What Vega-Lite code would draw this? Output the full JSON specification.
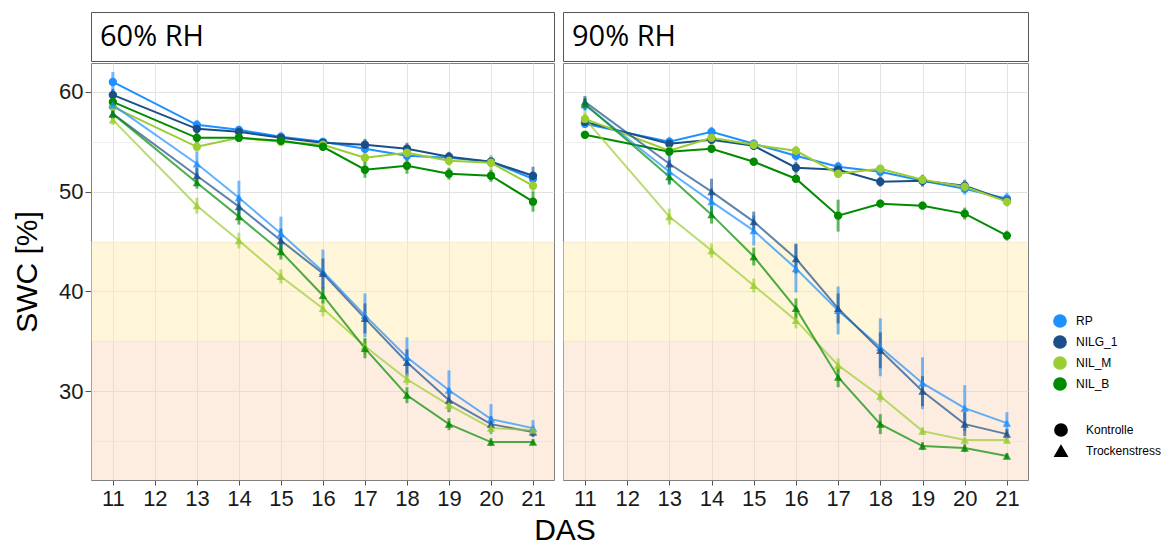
{
  "$schema": "https://vega.github.io/schema/vega-lite/v6.json",
  "background": "white",
  "padding": {"left": 12, "top": 11, "right": 0, "bottom": 0},
  "datasets": {
    "bands": [
      {"band": "yellow", "lo": 35, "hi": 45},
      {"band": "pink", "lo": 21.1, "hi": 35}
    ],
    "swc": [
      {"rh": "60% RH", "genotype": "RP", "treatment": "Kontrolle", "das": 11, "swc": 61.0, "se": 1.0},
      {"rh": "60% RH", "genotype": "RP", "treatment": "Kontrolle", "das": 13, "swc": 56.7, "se": 0.5},
      {"rh": "60% RH", "genotype": "RP", "treatment": "Kontrolle", "das": 14, "swc": 56.2, "se": 0.4},
      {"rh": "60% RH", "genotype": "RP", "treatment": "Kontrolle", "das": 15, "swc": 55.5, "se": 0.5},
      {"rh": "60% RH", "genotype": "RP", "treatment": "Kontrolle", "das": 16, "swc": 55.0, "se": 0.4},
      {"rh": "60% RH", "genotype": "RP", "treatment": "Kontrolle", "das": 17, "swc": 54.3, "se": 0.5},
      {"rh": "60% RH", "genotype": "RP", "treatment": "Kontrolle", "das": 18, "swc": 53.6, "se": 0.5},
      {"rh": "60% RH", "genotype": "RP", "treatment": "Kontrolle", "das": 19, "swc": 53.4, "se": 0.5},
      {"rh": "60% RH", "genotype": "RP", "treatment": "Kontrolle", "das": 20, "swc": 53.0, "se": 0.5},
      {"rh": "60% RH", "genotype": "RP", "treatment": "Kontrolle", "das": 21, "swc": 51.3, "se": 0.7},
      {"rh": "60% RH", "genotype": "NILG_1", "treatment": "Kontrolle", "das": 11, "swc": 59.7, "se": 0.6},
      {"rh": "60% RH", "genotype": "NILG_1", "treatment": "Kontrolle", "das": 13, "swc": 56.3, "se": 0.5},
      {"rh": "60% RH", "genotype": "NILG_1", "treatment": "Kontrolle", "das": 14, "swc": 56.0, "se": 0.4},
      {"rh": "60% RH", "genotype": "NILG_1", "treatment": "Kontrolle", "das": 15, "swc": 55.4, "se": 0.4},
      {"rh": "60% RH", "genotype": "NILG_1", "treatment": "Kontrolle", "das": 16, "swc": 54.9, "se": 0.4},
      {"rh": "60% RH", "genotype": "NILG_1", "treatment": "Kontrolle", "das": 17, "swc": 54.7, "se": 0.6},
      {"rh": "60% RH", "genotype": "NILG_1", "treatment": "Kontrolle", "das": 18, "swc": 54.3, "se": 0.6},
      {"rh": "60% RH", "genotype": "NILG_1", "treatment": "Kontrolle", "das": 19, "swc": 53.5, "se": 0.5},
      {"rh": "60% RH", "genotype": "NILG_1", "treatment": "Kontrolle", "das": 20, "swc": 53.0, "se": 0.5},
      {"rh": "60% RH", "genotype": "NILG_1", "treatment": "Kontrolle", "das": 21, "swc": 51.6, "se": 0.9},
      {"rh": "60% RH", "genotype": "NIL_M", "treatment": "Kontrolle", "das": 11, "swc": 58.5, "se": 0.5},
      {"rh": "60% RH", "genotype": "NIL_M", "treatment": "Kontrolle", "das": 13, "swc": 54.5, "se": 0.5},
      {"rh": "60% RH", "genotype": "NIL_M", "treatment": "Kontrolle", "das": 14, "swc": 55.4, "se": 0.4},
      {"rh": "60% RH", "genotype": "NIL_M", "treatment": "Kontrolle", "das": 15, "swc": 55.0, "se": 0.4},
      {"rh": "60% RH", "genotype": "NIL_M", "treatment": "Kontrolle", "das": 16, "swc": 54.7, "se": 0.4},
      {"rh": "60% RH", "genotype": "NIL_M", "treatment": "Kontrolle", "das": 17, "swc": 53.4, "se": 0.6},
      {"rh": "60% RH", "genotype": "NIL_M", "treatment": "Kontrolle", "das": 18, "swc": 53.9, "se": 0.5},
      {"rh": "60% RH", "genotype": "NIL_M", "treatment": "Kontrolle", "das": 19, "swc": 53.1, "se": 0.5},
      {"rh": "60% RH", "genotype": "NIL_M", "treatment": "Kontrolle", "das": 20, "swc": 52.9, "se": 0.8},
      {"rh": "60% RH", "genotype": "NIL_M", "treatment": "Kontrolle", "das": 21, "swc": 50.6, "se": 0.7},
      {"rh": "60% RH", "genotype": "NIL_B", "treatment": "Kontrolle", "das": 11, "swc": 59.0, "se": 0.5},
      {"rh": "60% RH", "genotype": "NIL_B", "treatment": "Kontrolle", "das": 13, "swc": 55.4, "se": 0.5},
      {"rh": "60% RH", "genotype": "NIL_B", "treatment": "Kontrolle", "das": 14, "swc": 55.4, "se": 0.4},
      {"rh": "60% RH", "genotype": "NIL_B", "treatment": "Kontrolle", "das": 15, "swc": 55.1, "se": 0.4},
      {"rh": "60% RH", "genotype": "NIL_B", "treatment": "Kontrolle", "das": 16, "swc": 54.5, "se": 0.4},
      {"rh": "60% RH", "genotype": "NIL_B", "treatment": "Kontrolle", "das": 17, "swc": 52.2, "se": 0.8},
      {"rh": "60% RH", "genotype": "NIL_B", "treatment": "Kontrolle", "das": 18, "swc": 52.6, "se": 0.8},
      {"rh": "60% RH", "genotype": "NIL_B", "treatment": "Kontrolle", "das": 19, "swc": 51.8, "se": 0.6},
      {"rh": "60% RH", "genotype": "NIL_B", "treatment": "Kontrolle", "das": 20, "swc": 51.6, "se": 0.6},
      {"rh": "60% RH", "genotype": "NIL_B", "treatment": "Kontrolle", "das": 21, "swc": 49.0, "se": 1.0},
      {"rh": "60% RH", "genotype": "RP", "treatment": "Trockenstress", "das": 11, "swc": 58.7, "se": 0.8},
      {"rh": "60% RH", "genotype": "RP", "treatment": "Trockenstress", "das": 13, "swc": 52.8, "se": 1.2},
      {"rh": "60% RH", "genotype": "RP", "treatment": "Trockenstress", "das": 14, "swc": 49.4, "se": 1.7},
      {"rh": "60% RH", "genotype": "RP", "treatment": "Trockenstress", "das": 15, "swc": 45.8, "se": 1.7},
      {"rh": "60% RH", "genotype": "RP", "treatment": "Trockenstress", "das": 16, "swc": 42.0, "se": 2.2},
      {"rh": "60% RH", "genotype": "RP", "treatment": "Trockenstress", "das": 17, "swc": 37.6, "se": 2.2},
      {"rh": "60% RH", "genotype": "RP", "treatment": "Trockenstress", "das": 18, "swc": 33.4, "se": 2.0},
      {"rh": "60% RH", "genotype": "RP", "treatment": "Trockenstress", "das": 19, "swc": 30.1, "se": 2.0},
      {"rh": "60% RH", "genotype": "RP", "treatment": "Trockenstress", "das": 20, "swc": 27.2, "se": 1.5},
      {"rh": "60% RH", "genotype": "RP", "treatment": "Trockenstress", "das": 21, "swc": 26.3, "se": 0.8},
      {"rh": "60% RH", "genotype": "NILG_1", "treatment": "Trockenstress", "das": 11, "swc": 57.8, "se": 0.5},
      {"rh": "60% RH", "genotype": "NILG_1", "treatment": "Trockenstress", "das": 13, "swc": 51.6, "se": 0.8},
      {"rh": "60% RH", "genotype": "NILG_1", "treatment": "Trockenstress", "das": 14, "swc": 48.5, "se": 1.0},
      {"rh": "60% RH", "genotype": "NILG_1", "treatment": "Trockenstress", "das": 15, "swc": 45.1, "se": 1.2},
      {"rh": "60% RH", "genotype": "NILG_1", "treatment": "Trockenstress", "das": 16, "swc": 41.8, "se": 1.5},
      {"rh": "60% RH", "genotype": "NILG_1", "treatment": "Trockenstress", "das": 17, "swc": 37.3, "se": 1.5},
      {"rh": "60% RH", "genotype": "NILG_1", "treatment": "Trockenstress", "das": 18, "swc": 32.9, "se": 1.3},
      {"rh": "60% RH", "genotype": "NILG_1", "treatment": "Trockenstress", "das": 19, "swc": 29.1, "se": 1.2},
      {"rh": "60% RH", "genotype": "NILG_1", "treatment": "Trockenstress", "das": 20, "swc": 26.7, "se": 0.8},
      {"rh": "60% RH", "genotype": "NILG_1", "treatment": "Trockenstress", "das": 21, "swc": 25.9, "se": 0.5},
      {"rh": "60% RH", "genotype": "NIL_M", "treatment": "Trockenstress", "das": 11, "swc": 57.2, "se": 0.5},
      {"rh": "60% RH", "genotype": "NIL_M", "treatment": "Trockenstress", "das": 13, "swc": 48.6, "se": 0.8},
      {"rh": "60% RH", "genotype": "NIL_M", "treatment": "Trockenstress", "das": 14, "swc": 45.1, "se": 0.8},
      {"rh": "60% RH", "genotype": "NIL_M", "treatment": "Trockenstress", "das": 15, "swc": 41.5, "se": 0.7},
      {"rh": "60% RH", "genotype": "NIL_M", "treatment": "Trockenstress", "das": 16, "swc": 38.3, "se": 0.8},
      {"rh": "60% RH", "genotype": "NIL_M", "treatment": "Trockenstress", "das": 17, "swc": 34.5, "se": 0.8},
      {"rh": "60% RH", "genotype": "NIL_M", "treatment": "Trockenstress", "das": 18, "swc": 31.2, "se": 0.6},
      {"rh": "60% RH", "genotype": "NIL_M", "treatment": "Trockenstress", "das": 19, "swc": 28.6, "se": 0.6},
      {"rh": "60% RH", "genotype": "NIL_M", "treatment": "Trockenstress", "das": 20, "swc": 26.3, "se": 0.5},
      {"rh": "60% RH", "genotype": "NIL_M", "treatment": "Trockenstress", "das": 21, "swc": 26.1, "se": 0.4},
      {"rh": "60% RH", "genotype": "NIL_B", "treatment": "Trockenstress", "das": 11, "swc": 57.8, "se": 0.5},
      {"rh": "60% RH", "genotype": "NIL_B", "treatment": "Trockenstress", "das": 13, "swc": 50.9, "se": 0.6},
      {"rh": "60% RH", "genotype": "NIL_B", "treatment": "Trockenstress", "das": 14, "swc": 47.5, "se": 0.8},
      {"rh": "60% RH", "genotype": "NIL_B", "treatment": "Trockenstress", "das": 15, "swc": 44.0, "se": 0.8},
      {"rh": "60% RH", "genotype": "NIL_B", "treatment": "Trockenstress", "das": 16, "swc": 39.6, "se": 0.8},
      {"rh": "60% RH", "genotype": "NIL_B", "treatment": "Trockenstress", "das": 17, "swc": 34.3, "se": 1.0},
      {"rh": "60% RH", "genotype": "NIL_B", "treatment": "Trockenstress", "das": 18, "swc": 29.6, "se": 0.8},
      {"rh": "60% RH", "genotype": "NIL_B", "treatment": "Trockenstress", "das": 19, "swc": 26.7, "se": 0.6},
      {"rh": "60% RH", "genotype": "NIL_B", "treatment": "Trockenstress", "das": 20, "swc": 24.9, "se": 0.4},
      {"rh": "60% RH", "genotype": "NIL_B", "treatment": "Trockenstress", "das": 21, "swc": 24.9, "se": 0.3},
      {"rh": "90% RH", "genotype": "RP", "treatment": "Kontrolle", "das": 11, "swc": 56.8, "se": 0.4},
      {"rh": "90% RH", "genotype": "RP", "treatment": "Kontrolle", "das": 13, "swc": 55.0, "se": 0.5},
      {"rh": "90% RH", "genotype": "RP", "treatment": "Kontrolle", "das": 14, "swc": 56.0, "se": 0.5},
      {"rh": "90% RH", "genotype": "RP", "treatment": "Kontrolle", "das": 15, "swc": 54.8, "se": 0.4},
      {"rh": "90% RH", "genotype": "RP", "treatment": "Kontrolle", "das": 16, "swc": 53.6, "se": 0.5},
      {"rh": "90% RH", "genotype": "RP", "treatment": "Kontrolle", "das": 17, "swc": 52.5, "se": 0.5},
      {"rh": "90% RH", "genotype": "RP", "treatment": "Kontrolle", "das": 18, "swc": 52.0, "se": 0.5},
      {"rh": "90% RH", "genotype": "RP", "treatment": "Kontrolle", "das": 19, "swc": 51.1, "se": 0.5},
      {"rh": "90% RH", "genotype": "RP", "treatment": "Kontrolle", "das": 20, "swc": 50.3, "se": 0.6},
      {"rh": "90% RH", "genotype": "RP", "treatment": "Kontrolle", "das": 21, "swc": 49.3, "se": 0.6},
      {"rh": "90% RH", "genotype": "NILG_1", "treatment": "Kontrolle", "das": 11, "swc": 57.0, "se": 0.4},
      {"rh": "90% RH", "genotype": "NILG_1", "treatment": "Kontrolle", "das": 13, "swc": 54.8, "se": 0.4},
      {"rh": "90% RH", "genotype": "NILG_1", "treatment": "Kontrolle", "das": 14, "swc": 55.2, "se": 0.4},
      {"rh": "90% RH", "genotype": "NILG_1", "treatment": "Kontrolle", "das": 15, "swc": 54.6, "se": 0.4},
      {"rh": "90% RH", "genotype": "NILG_1", "treatment": "Kontrolle", "das": 16, "swc": 52.4, "se": 0.6},
      {"rh": "90% RH", "genotype": "NILG_1", "treatment": "Kontrolle", "das": 17, "swc": 52.2, "se": 0.4},
      {"rh": "90% RH", "genotype": "NILG_1", "treatment": "Kontrolle", "das": 18, "swc": 51.0, "se": 0.5},
      {"rh": "90% RH", "genotype": "NILG_1", "treatment": "Kontrolle", "das": 19, "swc": 51.1, "se": 0.6},
      {"rh": "90% RH", "genotype": "NILG_1", "treatment": "Kontrolle", "das": 20, "swc": 50.6, "se": 0.6},
      {"rh": "90% RH", "genotype": "NILG_1", "treatment": "Kontrolle", "das": 21, "swc": 49.1, "se": 0.5},
      {"rh": "90% RH", "genotype": "NIL_M", "treatment": "Kontrolle", "das": 11, "swc": 57.3, "se": 0.5},
      {"rh": "90% RH", "genotype": "NIL_M", "treatment": "Kontrolle", "das": 13, "swc": 54.1, "se": 0.4},
      {"rh": "90% RH", "genotype": "NIL_M", "treatment": "Kontrolle", "das": 14, "swc": 55.4, "se": 0.4},
      {"rh": "90% RH", "genotype": "NIL_M", "treatment": "Kontrolle", "das": 15, "swc": 54.7, "se": 0.4},
      {"rh": "90% RH", "genotype": "NIL_M", "treatment": "Kontrolle", "das": 16, "swc": 54.1, "se": 0.5},
      {"rh": "90% RH", "genotype": "NIL_M", "treatment": "Kontrolle", "das": 17, "swc": 51.8, "se": 0.4},
      {"rh": "90% RH", "genotype": "NIL_M", "treatment": "Kontrolle", "das": 18, "swc": 52.3, "se": 0.4},
      {"rh": "90% RH", "genotype": "NIL_M", "treatment": "Kontrolle", "das": 19, "swc": 51.2, "se": 0.4},
      {"rh": "90% RH", "genotype": "NIL_M", "treatment": "Kontrolle", "das": 20, "swc": 50.5, "se": 0.5},
      {"rh": "90% RH", "genotype": "NIL_M", "treatment": "Kontrolle", "das": 21, "swc": 49.0, "se": 0.5},
      {"rh": "90% RH", "genotype": "NIL_B", "treatment": "Kontrolle", "das": 11, "swc": 55.7, "se": 0.4},
      {"rh": "90% RH", "genotype": "NIL_B", "treatment": "Kontrolle", "das": 13, "swc": 54.0, "se": 0.3},
      {"rh": "90% RH", "genotype": "NIL_B", "treatment": "Kontrolle", "das": 14, "swc": 54.3, "se": 0.4},
      {"rh": "90% RH", "genotype": "NIL_B", "treatment": "Kontrolle", "das": 15, "swc": 53.0, "se": 0.3},
      {"rh": "90% RH", "genotype": "NIL_B", "treatment": "Kontrolle", "das": 16, "swc": 51.3, "se": 0.4},
      {"rh": "90% RH", "genotype": "NIL_B", "treatment": "Kontrolle", "das": 17, "swc": 47.6, "se": 1.6},
      {"rh": "90% RH", "genotype": "NIL_B", "treatment": "Kontrolle", "das": 18, "swc": 48.8, "se": 0.4},
      {"rh": "90% RH", "genotype": "NIL_B", "treatment": "Kontrolle", "das": 19, "swc": 48.6, "se": 0.4},
      {"rh": "90% RH", "genotype": "NIL_B", "treatment": "Kontrolle", "das": 20, "swc": 47.8, "se": 0.6},
      {"rh": "90% RH", "genotype": "NIL_B", "treatment": "Kontrolle", "das": 21, "swc": 45.6, "se": 0.5},
      {"rh": "90% RH", "genotype": "RP", "treatment": "Trockenstress", "das": 11, "swc": 58.7, "se": 0.6},
      {"rh": "90% RH", "genotype": "RP", "treatment": "Trockenstress", "das": 13, "swc": 52.0, "se": 1.2},
      {"rh": "90% RH", "genotype": "RP", "treatment": "Trockenstress", "das": 14, "swc": 49.0, "se": 1.3},
      {"rh": "90% RH", "genotype": "RP", "treatment": "Trockenstress", "das": 15, "swc": 46.1, "se": 1.5},
      {"rh": "90% RH", "genotype": "RP", "treatment": "Trockenstress", "das": 16, "swc": 42.3, "se": 2.4},
      {"rh": "90% RH", "genotype": "RP", "treatment": "Trockenstress", "das": 17, "swc": 38.1, "se": 2.4},
      {"rh": "90% RH", "genotype": "RP", "treatment": "Trockenstress", "das": 18, "swc": 34.4, "se": 2.9},
      {"rh": "90% RH", "genotype": "RP", "treatment": "Trockenstress", "das": 19, "swc": 30.8, "se": 2.6},
      {"rh": "90% RH", "genotype": "RP", "treatment": "Trockenstress", "das": 20, "swc": 28.3, "se": 2.3},
      {"rh": "90% RH", "genotype": "RP", "treatment": "Trockenstress", "das": 21, "swc": 26.8, "se": 1.1},
      {"rh": "90% RH", "genotype": "NILG_1", "treatment": "Trockenstress", "das": 11, "swc": 59.0, "se": 0.6},
      {"rh": "90% RH", "genotype": "NILG_1", "treatment": "Trockenstress", "das": 13, "swc": 52.8, "se": 0.8},
      {"rh": "90% RH", "genotype": "NILG_1", "treatment": "Trockenstress", "das": 14, "swc": 50.0, "se": 1.3},
      {"rh": "90% RH", "genotype": "NILG_1", "treatment": "Trockenstress", "das": 15, "swc": 47.0, "se": 1.0},
      {"rh": "90% RH", "genotype": "NILG_1", "treatment": "Trockenstress", "das": 16, "swc": 43.3, "se": 1.5},
      {"rh": "90% RH", "genotype": "NILG_1", "treatment": "Trockenstress", "das": 17, "swc": 38.3, "se": 1.5},
      {"rh": "90% RH", "genotype": "NILG_1", "treatment": "Trockenstress", "das": 18, "swc": 34.1, "se": 1.8},
      {"rh": "90% RH", "genotype": "NILG_1", "treatment": "Trockenstress", "das": 19, "swc": 30.0, "se": 1.5},
      {"rh": "90% RH", "genotype": "NILG_1", "treatment": "Trockenstress", "das": 20, "swc": 26.7, "se": 1.2},
      {"rh": "90% RH", "genotype": "NILG_1", "treatment": "Trockenstress", "das": 21, "swc": 25.7, "se": 0.5},
      {"rh": "90% RH", "genotype": "NIL_M", "treatment": "Trockenstress", "das": 11, "swc": 57.3, "se": 0.8},
      {"rh": "90% RH", "genotype": "NIL_M", "treatment": "Trockenstress", "das": 13, "swc": 47.5, "se": 0.8},
      {"rh": "90% RH", "genotype": "NIL_M", "treatment": "Trockenstress", "das": 14, "swc": 44.1, "se": 0.7},
      {"rh": "90% RH", "genotype": "NIL_M", "treatment": "Trockenstress", "das": 15, "swc": 40.6, "se": 0.7},
      {"rh": "90% RH", "genotype": "NIL_M", "treatment": "Trockenstress", "das": 16, "swc": 37.1, "se": 0.8},
      {"rh": "90% RH", "genotype": "NIL_M", "treatment": "Trockenstress", "das": 17, "swc": 32.6, "se": 0.7},
      {"rh": "90% RH", "genotype": "NIL_M", "treatment": "Trockenstress", "das": 18, "swc": 29.5, "se": 0.6},
      {"rh": "90% RH", "genotype": "NIL_M", "treatment": "Trockenstress", "das": 19, "swc": 26.0, "se": 0.4},
      {"rh": "90% RH", "genotype": "NIL_M", "treatment": "Trockenstress", "das": 20, "swc": 25.1, "se": 0.3},
      {"rh": "90% RH", "genotype": "NIL_M", "treatment": "Trockenstress", "das": 21, "swc": 25.1, "se": 0.3},
      {"rh": "90% RH", "genotype": "NIL_B", "treatment": "Trockenstress", "das": 11, "swc": 58.8, "se": 0.6},
      {"rh": "90% RH", "genotype": "NIL_B", "treatment": "Trockenstress", "das": 13, "swc": 51.5, "se": 0.8},
      {"rh": "90% RH", "genotype": "NIL_B", "treatment": "Trockenstress", "das": 14, "swc": 47.7, "se": 0.9},
      {"rh": "90% RH", "genotype": "NIL_B", "treatment": "Trockenstress", "das": 15, "swc": 43.5, "se": 0.9},
      {"rh": "90% RH", "genotype": "NIL_B", "treatment": "Trockenstress", "das": 16, "swc": 38.3, "se": 1.0},
      {"rh": "90% RH", "genotype": "NIL_B", "treatment": "Trockenstress", "das": 17, "swc": 31.4, "se": 1.0},
      {"rh": "90% RH", "genotype": "NIL_B", "treatment": "Trockenstress", "das": 18, "swc": 26.7, "se": 1.0},
      {"rh": "90% RH", "genotype": "NIL_B", "treatment": "Trockenstress", "das": 19, "swc": 24.5, "se": 0.4},
      {"rh": "90% RH", "genotype": "NIL_B", "treatment": "Trockenstress", "das": 20, "swc": 24.3, "se": 0.4},
      {"rh": "90% RH", "genotype": "NIL_B", "treatment": "Trockenstress", "das": 21, "swc": 23.5, "se": 0.3}
    ]
  },
  "title": {"text": "DAS", "orient": "bottom", "anchor": "middle", "frame": "group", "fontSize": 30, "font": "Liberation Sans", "fontWeight": "normal", "color": "black", "offset": 6, "dx": 474},
  "spacing": 7,
  "hconcat": [
    {
      "spacing": 0,
      "vconcat": [
        {
          "width": 463, "height": 49,
          "view": {"stroke": "#555555", "strokeWidth": 1},
          "data": {"values": [{"rh": "60% RH"}]},
          "mark": {"type": "rect", "fill": "white", "opacity": 0},
          "encoding": {},
          "title": {"text": "60% RH", "anchor": "start", "orient": "top", "offset": -63, "dx": 9, "baseline": "alphabetic", "fontSize": 29, "font": "Open Sans", "fontWeight": "normal", "color": "black"}
        },
        {
          "width": 463, "height": 417,
          "layer": [
            {
              "data": {"name": "bands"},
              "transform": [{"filter": "datum.band == 'yellow'"}],
              "mark": {"type": "rect", "color": "#FFE9A8", "opacity": 0.45},
              "encoding": {
                "y": {"field": "lo", "type": "quantitative", "title": "SWC [%]", "scale": {"domain": [21.1, 62.9], "nice": false, "zero": false},
                  "axis": {"title": "SWC [%]", "titleFontSize": 30, "titlePadding": 16, "values": [25, 30, 35, 40, 45, 50, 55, 60],
                    "labelExpr": "datum.value % 10 == 0 ? datum.label : ''",
                    "tickOpacity": {"condition": {"test": "datum.value % 10 != 0", "value": 0}, "value": 1},
                    "gridOpacity": {"condition": {"test": "datum.value % 10 != 0", "value": 0.55}, "value": 1},
                    "tickSize": 6, "labelPadding": 2}},
                "y2": {"field": "hi"}
              }
            },
            {
              "data": {"name": "bands"},
              "transform": [{"filter": "datum.band == 'pink'"}],
              "mark": {"type": "rect", "color": "#FAD2B4", "opacity": 0.4},
              "encoding": {
                "y": {"field": "lo", "type": "quantitative", "title": "SWC [%]"},
                "y2": {"field": "hi"}
              }
            },
            {
              "data": {"name": "swc"},
              "transform": [{"filter": "datum.rh == '60% RH' && datum.treatment == 'Kontrolle'"}],
              "mark": {"type": "line", "strokeWidth": 2},
              "encoding": {
                "x": {"field": "das", "type": "quantitative", "scale": {"domain": [10.48, 21.5], "nice": false, "zero": false},
                  "axis": {"title": null, "values": [11, 11.5, 12, 12.5, 13, 13.5, 14, 14.5, 15, 15.5, 16, 16.5, 17, 17.5, 18, 18.5, 19, 19.5, 20, 20.5, 21],
                    "labelExpr": "datum.value % 1 == 0 ? datum.label : ''",
                    "tickOpacity": {"condition": {"test": "datum.value % 1 != 0", "value": 0}, "value": 1},
                    "gridOpacity": {"condition": {"test": "datum.value % 1 != 0", "value": 0.55}, "value": 1},
                    "tickSize": 5, "labelPadding": 3}},
                "y": {"field": "swc", "type": "quantitative", "title": "SWC [%]"},
                "color": {"field": "genotype", "type": "nominal"},
                "detail": {"field": "treatment"}
              }
            },
            {
              "data": {"name": "swc"},
              "transform": [{"filter": "datum.rh == '60% RH' && datum.treatment == 'Trockenstress'"}],
              "mark": {"type": "line", "strokeWidth": 2, "opacity": 0.7},
              "encoding": {
                "x": {"field": "das", "type": "quantitative"},
                "y": {"field": "swc", "type": "quantitative", "title": "SWC [%]"},
                "color": {"field": "genotype", "type": "nominal"},
                "detail": {"field": "treatment"}
              }
            },
            {
              "data": {"name": "swc"},
              "transform": [{"filter": "datum.rh == '60% RH'"}],
              "mark": {"type": "errorbar", "thickness": 3, "opacity": 0.6},
              "encoding": {
                "x": {"field": "das", "type": "quantitative"},
                "y": {"field": "swc", "type": "quantitative", "title": "SWC [%]"},
                "yError": {"field": "se"},
                "color": {"field": "genotype", "type": "nominal"}
              }
            },
            {
              "data": {"name": "swc"},
              "transform": [{"filter": "datum.rh == '60% RH' && datum.treatment == 'Kontrolle'"}],
              "mark": {"type": "point", "filled": true, "size": 70, "opacity": 1},
              "encoding": {
                "x": {"field": "das", "type": "quantitative"},
                "y": {"field": "swc", "type": "quantitative", "title": "SWC [%]"},
                "color": {"field": "genotype", "type": "nominal"},
                "shape": {"field": "treatment", "type": "nominal"}
              }
            },
            {
              "data": {"name": "swc"},
              "transform": [{"filter": "datum.rh == '60% RH' && datum.treatment == 'Trockenstress'"}],
              "mark": {"type": "point", "filled": true, "size": 70, "opacity": 0.8},
              "encoding": {
                "x": {"field": "das", "type": "quantitative"},
                "y": {"field": "swc", "type": "quantitative", "title": "SWC [%]"},
                "color": {"field": "genotype", "type": "nominal"},
                "shape": {"field": "treatment", "type": "nominal"}
              }
            }
          ]
        }
      ]
    },
    {
      "spacing": 0,
      "vconcat": [
        {
          "width": 465, "height": 49,
          "view": {"stroke": "#555555", "strokeWidth": 1},
          "data": {"values": [{"rh": "90% RH"}]},
          "mark": {"type": "rect", "fill": "white", "opacity": 0},
          "encoding": {},
          "title": {"text": "90% RH", "anchor": "start", "orient": "top", "offset": -63, "dx": 9, "baseline": "alphabetic", "fontSize": 29, "font": "Open Sans", "fontWeight": "normal", "color": "black"}
        },
        {
          "width": 465, "height": 417,
          "layer": [
            {
              "data": {"name": "bands"},
              "transform": [{"filter": "datum.band == 'yellow'"}],
              "mark": {"type": "rect", "color": "#FFE9A8", "opacity": 0.45},
              "encoding": {
                "y": {"field": "lo", "type": "quantitative", "scale": {"domain": [21.1, 62.9], "nice": false, "zero": false},
                  "axis": {"title": null, "labels": false, "ticks": false, "values": [25, 30, 35, 40, 45, 50, 55, 60],
                    "gridOpacity": {"condition": {"test": "datum.value % 10 != 0", "value": 0.55}, "value": 1}}},
                "y2": {"field": "hi"}
              }
            },
            {
              "data": {"name": "bands"},
              "transform": [{"filter": "datum.band == 'pink'"}],
              "mark": {"type": "rect", "color": "#FAD2B4", "opacity": 0.4},
              "encoding": {
                "y": {"field": "lo", "type": "quantitative"},
                "y2": {"field": "hi"}
              }
            },
            {
              "data": {"name": "swc"},
              "transform": [{"filter": "datum.rh == '90% RH' && datum.treatment == 'Kontrolle'"}],
              "mark": {"type": "line", "strokeWidth": 2},
              "encoding": {
                "x": {"field": "das", "type": "quantitative", "scale": {"domain": [10.48, 21.5], "nice": false, "zero": false},
                  "axis": {"title": null, "values": [11, 11.5, 12, 12.5, 13, 13.5, 14, 14.5, 15, 15.5, 16, 16.5, 17, 17.5, 18, 18.5, 19, 19.5, 20, 20.5, 21],
                    "labelExpr": "datum.value % 1 == 0 ? datum.label : ''",
                    "tickOpacity": {"condition": {"test": "datum.value % 1 != 0", "value": 0}, "value": 1},
                    "gridOpacity": {"condition": {"test": "datum.value % 1 != 0", "value": 0.55}, "value": 1},
                    "tickSize": 5, "labelPadding": 3}},
                "y": {"field": "swc", "type": "quantitative"},
                "color": {"field": "genotype", "type": "nominal"},
                "detail": {"field": "treatment"}
              }
            },
            {
              "data": {"name": "swc"},
              "transform": [{"filter": "datum.rh == '90% RH' && datum.treatment == 'Trockenstress'"}],
              "mark": {"type": "line", "strokeWidth": 2, "opacity": 0.7},
              "encoding": {
                "x": {"field": "das", "type": "quantitative"},
                "y": {"field": "swc", "type": "quantitative"},
                "color": {"field": "genotype", "type": "nominal"},
                "detail": {"field": "treatment"}
              }
            },
            {
              "data": {"name": "swc"},
              "transform": [{"filter": "datum.rh == '90% RH'"}],
              "mark": {"type": "errorbar", "thickness": 3, "opacity": 0.6},
              "encoding": {
                "x": {"field": "das", "type": "quantitative"},
                "y": {"field": "swc", "type": "quantitative"},
                "yError": {"field": "se"},
                "color": {"field": "genotype", "type": "nominal"}
              }
            },
            {
              "data": {"name": "swc"},
              "transform": [{"filter": "datum.rh == '90% RH' && datum.treatment == 'Kontrolle'"}],
              "mark": {"type": "point", "filled": true, "size": 70, "opacity": 1},
              "encoding": {
                "x": {"field": "das", "type": "quantitative"},
                "y": {"field": "swc", "type": "quantitative"},
                "color": {"field": "genotype", "type": "nominal",
                  "scale": {"domain": ["RP", "NILG_1", "NIL_M", "NIL_B"], "range": ["#1E90FF", "#1B4F8A", "#9ACD32", "#008B00"]},
                  "legend": {"title": null, "orient": "none", "legendX": 962, "legendY": 302, "symbolType": "circle", "symbolSize": 150, "symbolOpacity": 1, "labelFontSize": 12, "labelFont": "Liberation Sans", "labelOffset": 9, "rowPadding": 1, "padding": 0,
                    "encode": {"symbols": {"update": {"opacity": {"value": 1}, "fillOpacity": {"value": 1}}}}}},
                "shape": {"field": "treatment", "type": "nominal",
                  "scale": {"domain": ["Kontrolle", "Trockenstress"], "range": ["circle", "triangle-up"]},
                  "legend": {"title": null, "orient": "none", "legendX": 963, "legendY": 411, "symbolSize": 150, "symbolFillColor": "black", "symbolStrokeColor": "black", "symbolOpacity": 1, "labelFontSize": 12, "labelFont": "Liberation Sans", "labelOffset": 18, "rowPadding": 2, "padding": 0,
                    "encode": {"symbols": {"update": {"opacity": {"value": 1}, "fillOpacity": {"value": 1}}}}}}
              }
            },
            {
              "data": {"name": "swc"},
              "transform": [{"filter": "datum.rh == '90% RH' && datum.treatment == 'Trockenstress'"}],
              "mark": {"type": "point", "filled": true, "size": 70, "opacity": 0.8},
              "encoding": {
                "x": {"field": "das", "type": "quantitative"},
                "y": {"field": "swc", "type": "quantitative"},
                "color": {"field": "genotype", "type": "nominal"},
                "shape": {"field": "treatment", "type": "nominal"}
              }
            }
          ]
        }
      ]
    }
  ],
  "config": {
    "view": {"stroke": "#7F7F7F", "strokeWidth": 1},
    "axis": {"labelFont": "Liberation Sans", "labelFontSize": 22, "labelColor": "#1a1a1a", "titleFont": "Liberation Sans", "titleFontWeight": "normal", "titleColor": "black", "gridColor": "#E3E3E3", "gridWidth": 1, "tickColor": "#555555", "domain": false},
    "legend": {"labelColor": "black"}
  }
}
